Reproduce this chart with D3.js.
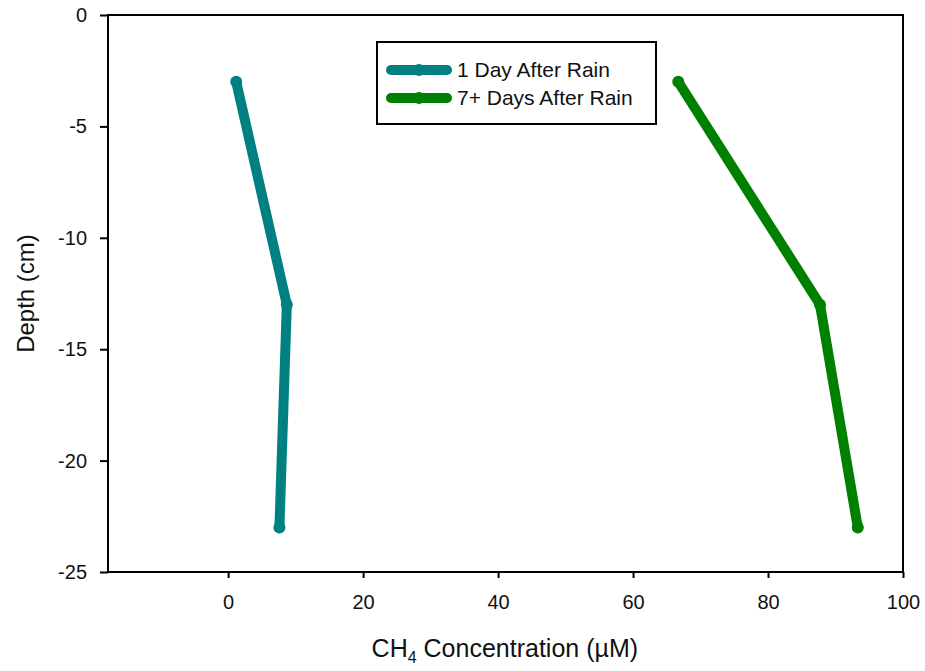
<!DOCTYPE html>
<html>
<head>
<meta charset="utf-8">
<script src="https://cdn.jsdelivr.net/npm/d3@7"></script>
<style>
  body { margin: 0; background: #fff; }
  svg { display: block; }
  .axis text { font-family: "Liberation Sans", Arial, sans-serif; font-size: 20px; fill: #111; }
  .axis path, .axis line { stroke: #000; stroke-width: 2; }
</style>
</head>
<body>
<div id="chart"><svg></svg></div>
<script>
// values
const seriesNames = ["1 Day After Rain", "7+ Days After Rain"];
const seriesColors = ["#008080", "#008000"];
const depths = [-3, -13, -23];
const oneDay = [1.2, 8.7, 7.6];
const sevenDays = [66.7, 87.7, 93.3];
const xTicks = [0, 20, 40, 60, 80, 100];
const yTicks = [0, -5, -10, -15, -20, -25];

const width = 925, height = 671;
const margin = { top: 15, right: 22, bottom: 99, left: 108 };
const innerW = width - margin.left - margin.right;
const innerH = height - margin.top - margin.bottom;

const svg = d3.select("#chart svg").attr("width", width).attr("height", height);
const g = svg.append("g").attr("transform", `translate(${margin.left},${margin.top})`);

const x = d3.scaleLinear().domain([-17.8, 100]).range([0, innerW]);
const y = d3.scaleLinear().domain([0, -25]).range([0, innerH]);

// plain hyphen for negatives, as in the original
const fmt = d => String(d);

// frame
g.append("rect")
    .attr("width", innerW).attr("height", innerH)
    .attr("fill", "none").attr("stroke", "#000").attr("stroke-width", 2);

const xAxis = g.append("g")
    .attr("class", "axis x-axis")
    .attr("transform", `translate(0,${innerH})`)
    .call(d3.axisBottom(x).tickValues(xTicks).tickFormat(fmt).tickSize(6).tickSizeOuter(0).tickPadding(17));
xAxis.select(".domain").remove();

const yAxis = g.append("g")
    .attr("class", "axis y-axis")
    .call(d3.axisLeft(y).tickValues(yTicks).tickFormat(fmt).tickSize(8).tickSizeOuter(0).tickPadding(13));
yAxis.select(".domain").remove();

// axis titles
const xt = svg.append("text")
    .attr("x", margin.left + x(41))
    .attr("y", 657)
    .attr("text-anchor", "middle")
    .style("font-family", "'Liberation Sans', Arial, sans-serif")
    .style("font-size", "25px")
    .attr("fill", "#111");
xt.append("tspan").text("CH");
xt.append("tspan").attr("dy", 6).style("font-size", "16px").text("4");
xt.append("tspan").attr("dy", -6).text(" Concentration (\u00b5M)");

svg.append("text")
    .attr("transform", `translate(34,${margin.top + y(-12.5)}) rotate(-90)`)
    .attr("text-anchor", "middle")
    .style("font-family", "'Liberation Sans', Arial, sans-serif")
    .style("font-size", "24px")
    .attr("fill", "#111")
    .text("Depth (cm)");

// series
const series = [oneDay, sevenDays].map((vals, i) => ({
    name: seriesNames[i],
    color: seriesColors[i],
    points: vals.map((v, j) => ({ x: v, y: depths[j] }))
}));

const line = d3.line().x(d => x(d.x)).y(d => y(d.y));

g.selectAll(".series-line")
    .data(series)
    .join("path")
    .attr("class", "series-line")
    .attr("d", d => line(d.points))
    .attr("fill", "none")
    .attr("stroke", d => d.color)
    .attr("stroke-width", 10)
    .attr("stroke-linejoin", "round");

series.forEach(s => {
    g.selectAll(null)
        .data(s.points)
        .join("circle")
        .attr("cx", d => x(d.x))
        .attr("cy", d => y(d.y))
        .attr("r", 6)
        .attr("fill", s.color);
});

// legend
const legend = svg.append("g").attr("transform", "translate(377,42)");
legend.append("rect")
    .attr("width", 279).attr("height", 82)
    .attr("fill", "#fff").attr("stroke", "#000").attr("stroke-width", 2);

const items = legend.selectAll(".item")
    .data(series)
    .join("g")
    .attr("class", "item")
    .attr("transform", (d, i) => `translate(0,${28 + i * 28})`);

items.append("line")
    .attr("x1", 14).attr("x2", 70)
    .attr("stroke", d => d.color)
    .attr("stroke-width", 10)
    .attr("stroke-linecap", "round");
items.append("circle")
    .attr("cx", 42).attr("r", 6)
    .attr("fill", d => d.color);
items.append("text")
    .attr("x", 80).attr("dy", "0.35em")
    .style("font-family", "'Liberation Sans', Arial, sans-serif")
    .style("font-size", "21px")
    .attr("fill", "#111")
    .text(d => d.name);
</script>
</body>
</html>
